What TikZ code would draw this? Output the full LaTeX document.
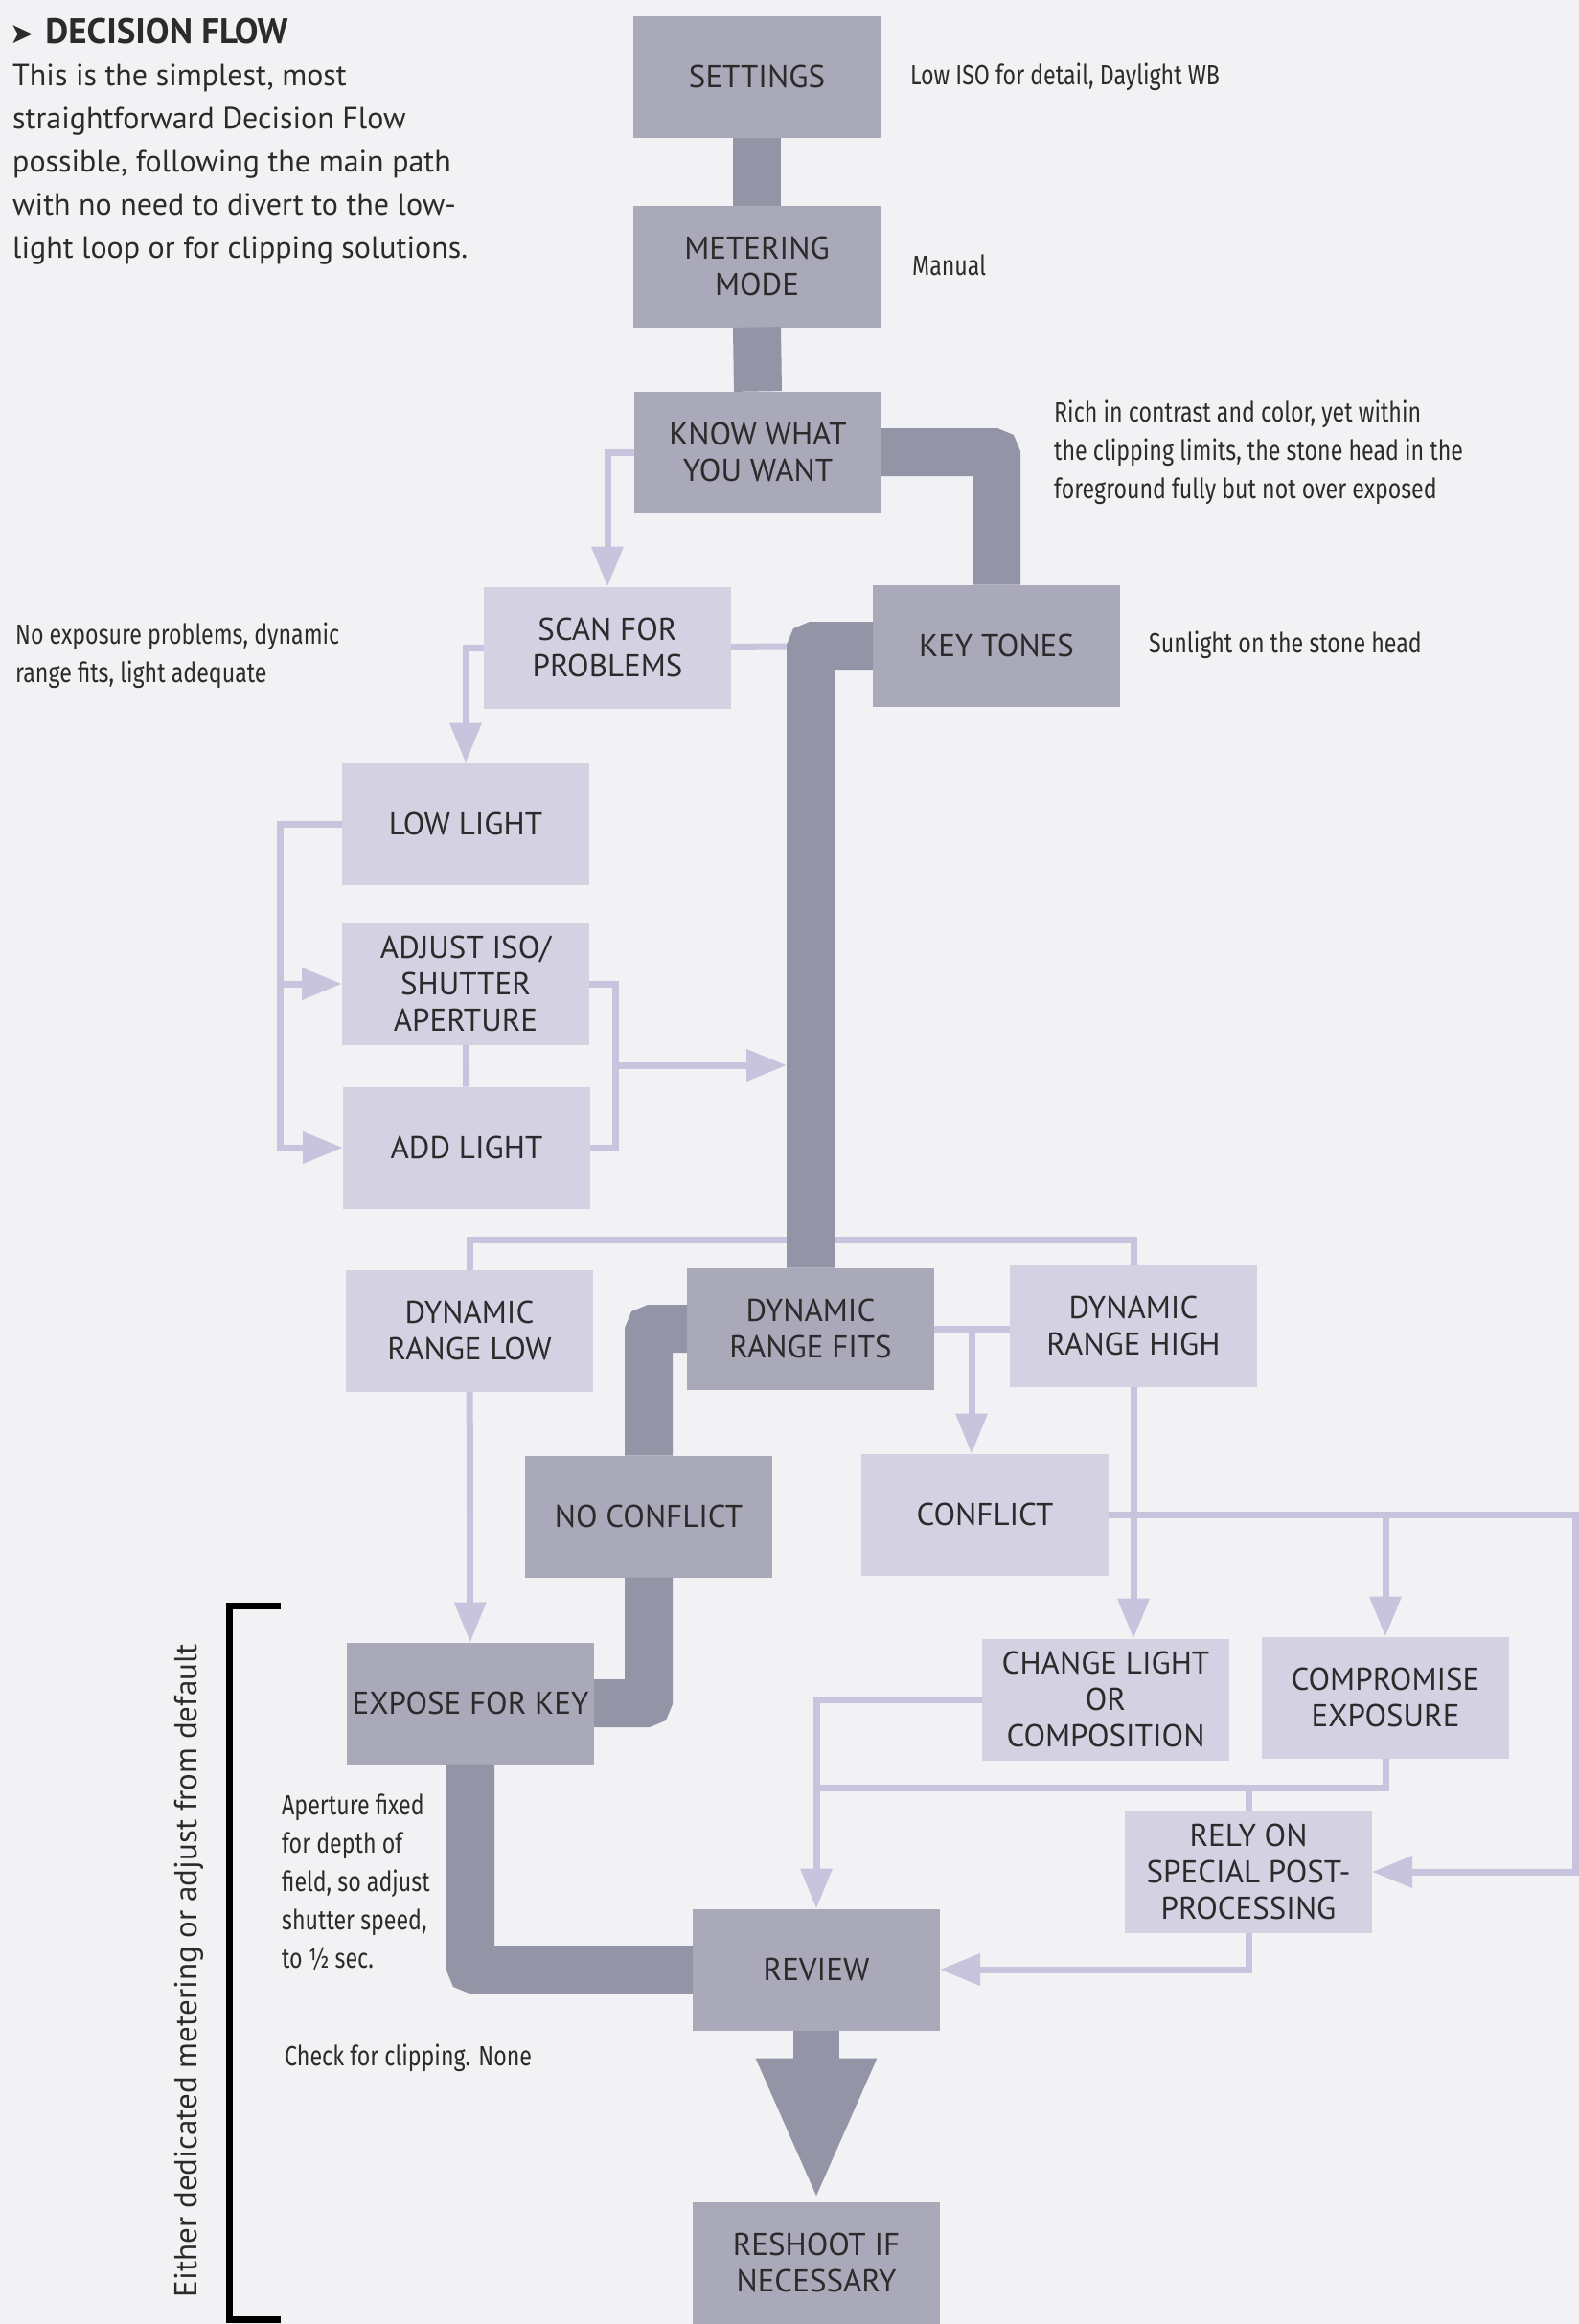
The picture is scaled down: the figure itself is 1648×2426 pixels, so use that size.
\documentclass[tikz,border=0pt]{standalone}
\usepackage{fontspec}
\setmainfont{PT Sans}
\newfontfamily\notefont[FakeStretch=0.8]{Fira Sans}
\newfontfamily\glyphfont{DejaVu Sans}
\usetikzlibrary{arrows.meta}
\definecolor{page color}{HTML}{F2F2F4}
\definecolor{main box color}{HTML}{A9A9BA}
\definecolor{side box color}{HTML}{D3D1E2}
\definecolor{main path color}{HTML}{9494A7}
\definecolor{side path color}{HTML}{C8C4DE}
\definecolor{label color}{HTML}{2B2B2B}
\tikzset{
    x={1pt},
    y={-1pt},
    box/.style={
        rectangle,
        inner sep=0pt, outer sep=0pt,
        minimum width={258pt},
        minimum height={127pt},
        align=center,
        text=label color,
        font={\fontsize{33}{38}\selectfont},
    },
    main box/.style={box, fill=main box color},
    side box/.style={box, fill=side box color},
    main path/.style={
        draw=main path color,
        line width={50pt},
        rounded corners={4pt},
    },
    big arrow/.style={
        draw=main path color,
        line width={48pt},
        -{Triangle[length=150pt 0 0, width=114pt 0 0]},
    },
    side path/.style={
        draw=side path color,
        line width={7pt},
    },
    side arrow/.style={
        side path,
        -{Triangle[length=42pt 0 0, width=32pt 0 0]},
    },
    note/.style={
        anchor=west, align=left,
        inner sep=0pt,
        text=label color,
        font={\notefont\fontsize{29}{40}\selectfont},
    },
    heading/.style={
        anchor=west, inner sep=0pt,
        text=label color,
        font={\bfseries\fontsize{37}{40}\selectfont},
    },
    intro/.style={
        anchor=west, align=left, inner sep=0pt,
        text=label color,
        font={\fontsize{32}{45}\selectfont},
    },
    range label/.style={
        rotate=90, inner sep=0pt,
        text=label color,
        font={\fontsize{33}{34}\selectfont},
    },
    bracket/.style={
        draw=black,
        line width={7pt},
    },
}

\begin{document}
\begin{tikzpicture}
% page
\useasboundingbox (0,0) rectangle (1648,2426);
\fill[page color] (0,0) rectangle (1648,2426);
% heading
\node[heading] (title) at (10,33) {{\glyphfont\fontsize{30}{30}\selectfont ➤}\hspace{12pt}DECISION FLOW};
\node[intro] (intro) at (13,172) {This is the simplest, most\\straightforward Decision Flow\\possible, following the main path\\with no need to divert to the low-\\light loop or for clipping solutions.};
% boxes
\node[main box] (settings) at (790,80) {SETTINGS};
\node[main box] (metering) at (790,278) {METERING\\MODE};
\node[main box] (know) at (791,472) {KNOW WHAT\\YOU WANT};
\node[side box] (scan) at (634,676) {SCAN FOR\\PROBLEMS};
\node[main box] (keytones) at (1040,674) {KEY TONES};
\node[side box] (lowlight) at (486,860) {LOW LIGHT};
\node[side box] (adjust) at (486,1027) {ADJUST ISO/\\SHUTTER\\APERTURE};
\node[side box] (addlight) at (487,1198) {ADD LIGHT};
\node[side box] (drlow) at (490,1389) {DYNAMIC\\RANGE LOW};
\node[main box] (drfits) at (846,1387) {DYNAMIC\\RANGE FITS};
\node[side box] (drhigh) at (1183,1384) {DYNAMIC\\RANGE HIGH};
\node[main box] (noconflict) at (677,1583) {NO CONFLICT};
\node[side box] (conflict) at (1028,1581) {CONFLICT};
\node[main box] (expose) at (491,1778) {EXPOSE FOR KEY};
\node[side box] (changelight) at (1154,1774) {CHANGE LIGHT\\OR\\COMPOSITION};
\node[side box] (compromise) at (1446,1772) {COMPROMISE\\EXPOSURE};
\node[side box] (relyon) at (1303,1954) {RELY ON\\SPECIAL POST-\\PROCESSING};
\node[main box] (review) at (852,2056) {REVIEW};
\node[main box] (reshoot) at (852,2362) {RESHOOT IF\\NECESSARY};
% notes
\node[note] (settings note) at (950,80) {Low ISO for detail, Daylight WB};
\node[note] (metering note) at (952,277) {Manual};
\node[note] (know note) at (1100,472) {Rich in contrast and color, yet within\\the clipping limits, the stone head in the\\foreground fully but not over exposed};
\node[note] (key note) at (1199,673) {Sunlight on the stone head};
\node[note] (scan note) at (16,684) {No exposure problems, dynamic\\range fits, light adequate};
\node[note] (expose note) at (294,1965) {Aperture fixed\\for depth of\\field, so adjust\\shutter speed,\\to ½ sec.};
\node[note] (review note) at (297,2148) {Check for clipping. None};
\node[range label] (default label) at (197,2057) {Either dedicated metering or adjust from default};
% joints
\coordinate (keyjoin) at (821,1112);
\coordinate (split) at (846,1294);
\coordinate (fork) at (1014,1387);
\coordinate (edge) at (1644,1581);
\coordinate (postjoin) at (852,1866);
% side branches
\path[side arrow] (know.west) -| (scan.north);
\path[side arrow] (scan.west) -| (lowlight.north);
\path[side path] (scan) -- (keytones);
\path[side arrow] (lowlight.west) -- ++(-65,0) coordinate (loop) |- (addlight.west);
\path[side arrow] (loop |- adjust.west) -- (adjust.west);
\path[side path] (adjust) -- (addlight);
\path[side path] (adjust.east) -- ++(27,0) coordinate (merge) |- (addlight.east);
\path[side arrow] (merge |- keyjoin) -- (keyjoin);
\path[side path] (drlow.north) |- (split) -| (drhigh.north);
\path[side path] (drfits.east) -- (drfits.east -| drhigh.west);
\path[side arrow] (fork) -- (fork |- conflict.north);
\path[side arrow] (drlow) -- (expose);
\path[side arrow] (drhigh.south) -- (drhigh.south |- changelight.north);
\path[side arrow] (conflict.east) -- (edge) |- (relyon.east);
\path[side arrow] (compromise.north |- conflict.east) -- (compromise.north);
\path[side arrow] (changelight.west) -| (review.north);
\path[side path] (compromise.south) |- (postjoin);
\path[side path] (relyon.north) -- (relyon.north |- postjoin);
\path[side arrow] (relyon.south) |- (review.east);
% main path
\path[main path] (settings.south) -- (metering.north);
\path[main path] (metering.south) -- (know.north);
\path[main path] (know.east) -| (keytones.north);
\path[main path] (keytones.west) -| (drfits.north);
\path[main path] (drfits.west) -| (noconflict.north);
\path[main path] (noconflict.south) |- (expose.east);
\path[main path] (expose.south) |- (review.west);
\path[big arrow] (review.south) -- (reshoot.north);
% bracket
\path[bracket] (293,1676) -| (239,2421) -- (293,2421);
\end{tikzpicture}
\end{document}
